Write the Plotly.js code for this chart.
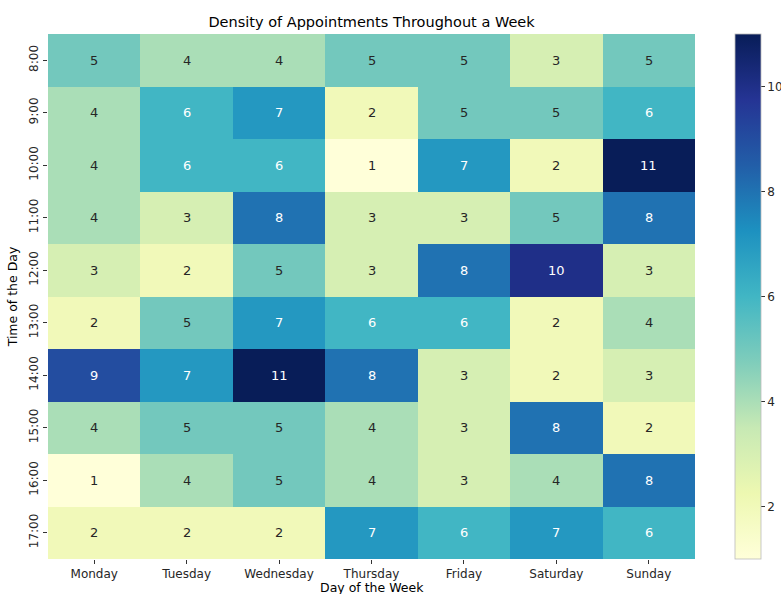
<!DOCTYPE html>
<html>
<head>
<meta charset="utf-8">
<script src="https://cdn.plot.ly/plotly-3.0.1.min.js"></script>
<style>html,body{margin:0;padding:0;background:#fff;overflow:hidden;}#chart{width:790px;height:594px;}</style>
</head>
<body>
<div id="chart"></div>
<script>
const days = ["Monday","Tuesday","Wednesday","Thursday","Friday","Saturday","Sunday"];
const hours = ["8:00","9:00","10:00","11:00","12:00","13:00","14:00","15:00","16:00","17:00"];
const row0800 = [5,4,4,5,5,3,5];
const row0900 = [4,6,7,2,5,5,6];
const row1000 = [4,6,6,1,7,2,11];
const row1100 = [4,3,8,3,3,5,8];
const row1200 = [3,2,5,3,8,10,3];
const row1300 = [2,5,7,6,6,2,4];
const row1400 = [9,7,11,8,3,2,3];
const row1500 = [4,5,5,4,3,8,2];
const row1600 = [1,4,5,4,3,4,8];
const row1700 = [2,2,2,7,6,7,6];
const z = [row0800,row0900,row1000,row1100,row1200,row1300,row1400,row1500,row1600,row1700];

const ylgnbu = [
  [0.0,"#ffffd9"],[0.125,"#edf8b1"],[0.25,"#c7e9b4"],[0.375,"#7fcdbb"],
  [0.5,"#41b6c4"],[0.625,"#1d91c0"],[0.75,"#225ea8"],[0.875,"#253494"],[1.0,"#081d58"]
];

const annotations = [];
z.forEach((row,i)=>row.forEach((v,j)=>{
  annotations.push({x:days[j], y:hours[i], text:String(v), showarrow:false,
    font:{family:"DejaVu Sans", size:13, color: v>=6 ? "#ffffff" : "#262626"}});
}));
annotations.push({text:"Day of the Week", xref:"x domain", yref:"y domain", x:0.5, y:-0.0535,
  xanchor:"center", yanchor:"middle", showarrow:false,
  font:{family:"DejaVu Sans", size:12.5, color:"#000"}});

const trace = {
  type:"heatmap", x:days, y:hours, z:z, zmin:1, zmax:11,
  colorscale:ylgnbu, xgap:0, ygap:0, hoverinfo:"none",
  colorbar:{x:0.9265, xanchor:"left", y:0.5, yanchor:"middle", len:1, lenmode:"fraction",
    thickness:26, thicknessmode:"pixels", outlinewidth:0.8, outlinecolor:"#bbbbbb",
    tickvals:[2,4,6,8,10], ticks:"outside", ticklen:4, tickcolor:"#333",
    tickfont:{family:"DejaVu Sans", size:12, color:"#262626"}, xpad:0, ypad:0}
};

const layout = {
  width:790, height:594,
  margin:{l:48, r:0, t:34, b:35},
  paper_bgcolor:"#fff", plot_bgcolor:"#fff",
  title:{text:"Density of Appointments Throughout a Week", x:0.436, xref:"paper", xanchor:"center", y:0.9636, yanchor:"middle",
    font:{family:"DejaVu Sans", size:14.5, color:"#000"}},
  xaxis:{type:"category", domain:[0,0.872], showgrid:false, zeroline:false, ticks:"outside", ticklen:4, tickcolor:"#333",
    tickfont:{family:"DejaVu Sans", size:12, color:"#262626"}},
  yaxis:{type:"category", autorange:"reversed", showgrid:false, zeroline:false, ticks:"outside", ticklen:4, tickcolor:"#333",
    tickangle:-90, tickfont:{family:"DejaVu Sans", size:12, color:"#262626"},
    title:{text:"Time of the Day", standoff:6, font:{family:"DejaVu Sans", size:12.5, color:"#000"}}},
  annotations:annotations
};

Plotly.newPlot("chart",[trace],layout,{displayModeBar:false, staticPlot:true});
</script>
</body>
</html>
